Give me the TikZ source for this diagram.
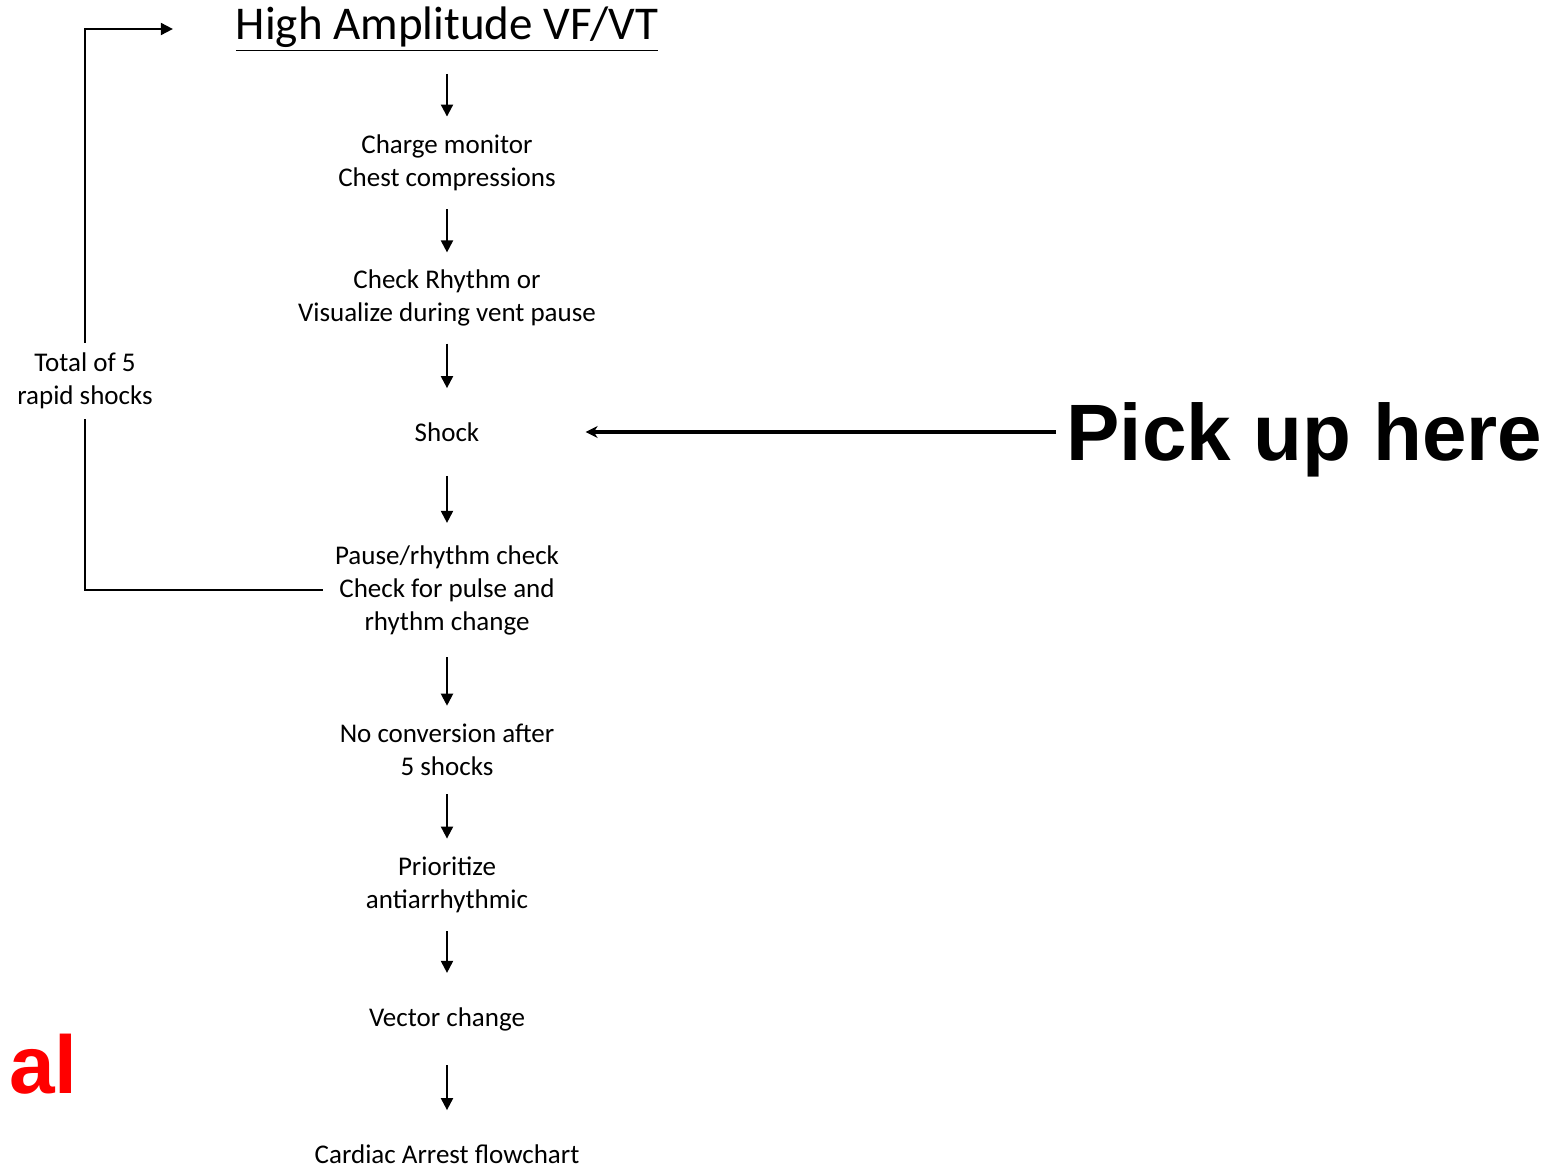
\documentclass[tikz,border=0pt]{standalone}
\usepackage{fontspec}
\setmainfont{Carlito}
\newfontfamily\arialbf{Liberation Sans}[BoldFont=* Bold]
\usetikzlibrary{arrows.meta,positioning}

\tikzset{
  step box/.style={align=center, inner xsep=6pt, inner ysep=9pt, font=\fontsize{13.5}{16.5}\selectfont},
  one line/.style={step box, inner ysep=17pt},
  flow/.style={-{Triangle[length=6pt,width=6pt]}, line width=1pt},
  loopline/.style={line width=1pt}
}

\begin{document}
\begin{tikzpicture}[x=0.5pt, y=-0.5pt]
\useasboundingbox (0,0) rectangle (1565,1167);
% main column
\node[font=\fontsize{23.5}{28}\selectfont, inner ysep=11pt] (title) at (447,29) {\underline{High Amplitude VF/VT}};
\node[step box] (charge) at (447,163) {Charge monitor\\Chest compressions};
\node[step box, inner ysep=8.5pt] (check) at (447,298) {Check Rhythm or\\Visualize during vent pause};
\node[one line] (shock) at (447,432) {Shock};
\node[step box, inner ysep=11pt] (pause) at (447,590) {Pause/rhythm check\\Check for pulse and\\rhythm change};
\node[step box] (noconv) at (447,750) {No conversion after\\5 shocks};
\node[step box] (prior) at (447,885) {Prioritize\\antiarrhythmic};
\node[one line] (vector) at (447,1019) {Vector change};
\node[one line] (cardiac) at (447,1154) {Cardiac Arrest flowchart};
\foreach \a/\b in {title/charge, charge/check, check/shock, shock/pause, pause/noconv, noconv/prior, prior/vector, vector/cardiac}
  \draw[flow] (\a) -- (\b);
% loop back
\node[step box, fill=white, inner ysep=5pt] (total) at (85,381) {Total of 5\\rapid shocks};
\draw[loopline] (pause.west) -| (total.south);
\draw[flow, shorten >=28pt] (total.north) |- (title.west);
% callout
\node[font=\arialbf\bfseries\fontsize{40}{48}\selectfont, anchor=base west, inner sep=0pt] (pick) at (1066,460) {Pick up here};
\draw[-{Stealth[length=6pt,width=6pt]}, line width=2pt, shorten >=47pt] (pick.west |- shock) ++(-10,0) coordinate (pstart) -- (shock.east);
\node[font=\arialbf\bfseries\fontsize{41}{48}\selectfont, text=red, anchor=base west, inner sep=0pt] (cut) at (9,1093) {al};
\end{tikzpicture}
\end{document}
